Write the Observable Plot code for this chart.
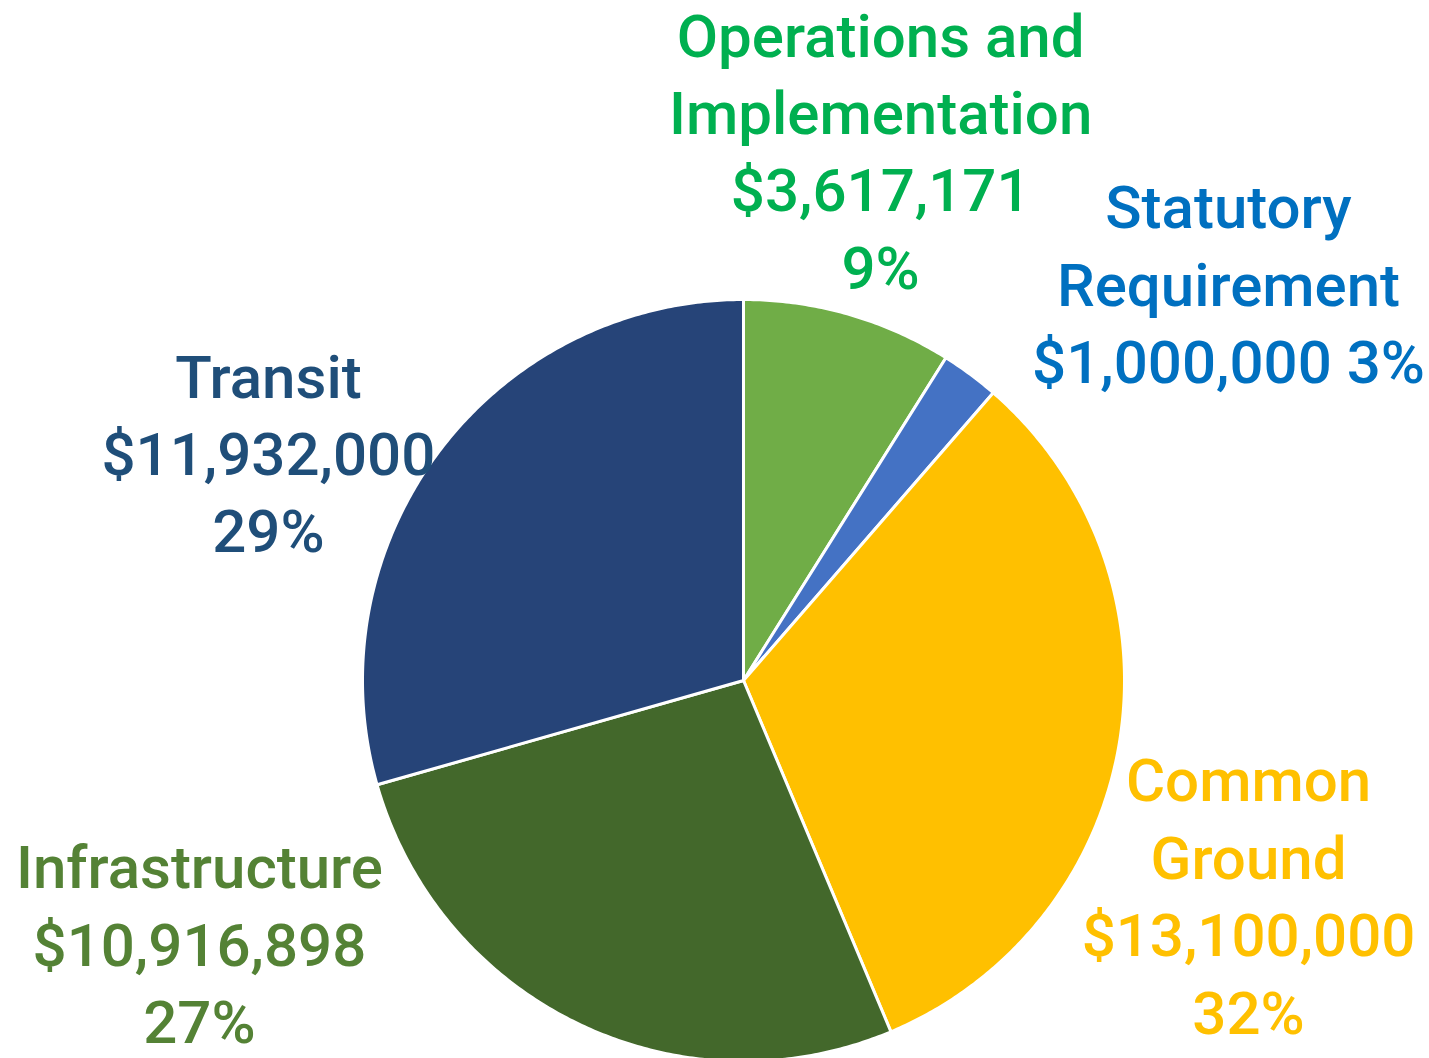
<!DOCTYPE html>
<html>
<head>
<meta charset="utf-8">
<script src="https://cdn.jsdelivr.net/npm/d3@7"></script>
<script src="https://cdn.jsdelivr.net/npm/@observablehq/plot@0.6"></script>
<style>
  html, body { margin: 0; padding: 0; background: #ffffff; }
  #chart svg { display: block; }
</style>
</head>
<body>
<div id="chart"></div>
<script>
// ---- data ----
const categories = ["Operations and Implementation", "Statutory Requirement", "Common Ground", "Infrastructure", "Transit"];
const labelNames = ["Operations and\nImplementation", "Statutory\nRequirement", "Common\nGround", "Infrastructure", "Transit"];
const amounts = [3617171, 1000000, 13100000, 10916898, 11932000];
const percentLabels = ["9%", "3%", "32%", "27%", "29%"];

// ---- styles / layout ----
const sliceColors = ["#70AD47", "#4472C4", "#FFC000", "#43682B", "#264478"];
const textColors = ["#00B050", "#0070C0", "#FFC000", "#548235", "#1F4E79"];
// label anchors in pie units (radius = 1, centre = 0,0)
const labelAnchor = [
  {u: 0.36, v: 1.782},
  {u: 1.273, v: 1.331},
  {u: 1.3255, v: -0.173},
  {u: -1.428, v: -0.401},
  {u: -1.247, v: 0.887}
];
const W = 1429, H = 1058;
const cx = 743, cy = 680, R = 381;

// ---- slice geometry (pie units) ----
const total = d3.sum(amounts);
const pts = [];
let start = 0;
categories.forEach((c, i) => {
  const end = start + amounts[i] / total * 2 * Math.PI;
  pts.push({name: c, x: 0, y: 0});
  const n = Math.max(2, Math.ceil((end - start) / (Math.PI / 360)));
  for (let k = 0; k <= n; k++) {
    const a = start + (end - start) * k / n;
    pts.push({name: c, x: Math.sin(a), y: Math.cos(a)});
  }
  start = end;
});

const labels = categories.map((c, i) => ({
  name: c,
  x: labelAnchor[i].u,
  y: labelAnchor[i].v,
  color: textColors[i],
  text: i === 1
    ? `${labelNames[i]}\n$${d3.format(",")(amounts[i])} ${percentLabels[i]}`
    : `${labelNames[i]}\n$${d3.format(",")(amounts[i])}\n${percentLabels[i]}`
}));

const chart = Plot.plot({
  width: W,
  height: H,
  margin: 0,
  x: {domain: [(0 - cx) / R, (W - cx) / R], axis: null},
  y: {domain: [(cy - H) / R, cy / R], axis: null},
  color: {domain: categories, range: sliceColors},
  style: {background: "#ffffff"},
  marks: [
    Plot.line(pts, {x: "x", y: "y", z: "name", fill: "name", stroke: "#ffffff", strokeWidth: 3, strokeLinejoin: "round", curve: "linear-closed"}),
    Plot.text(labels, {
      x: "x", y: "y", text: "text", fill: "color",
      lineAnchor: "top", textAnchor: "middle", lineHeight: 1.29,
      fontSize: 60, fontWeight: 500, fontFamily: "Roboto, 'Liberation Sans', sans-serif"
    })
  ]
});
document.getElementById("chart").appendChild(chart);
</script>
</body>
</html>
